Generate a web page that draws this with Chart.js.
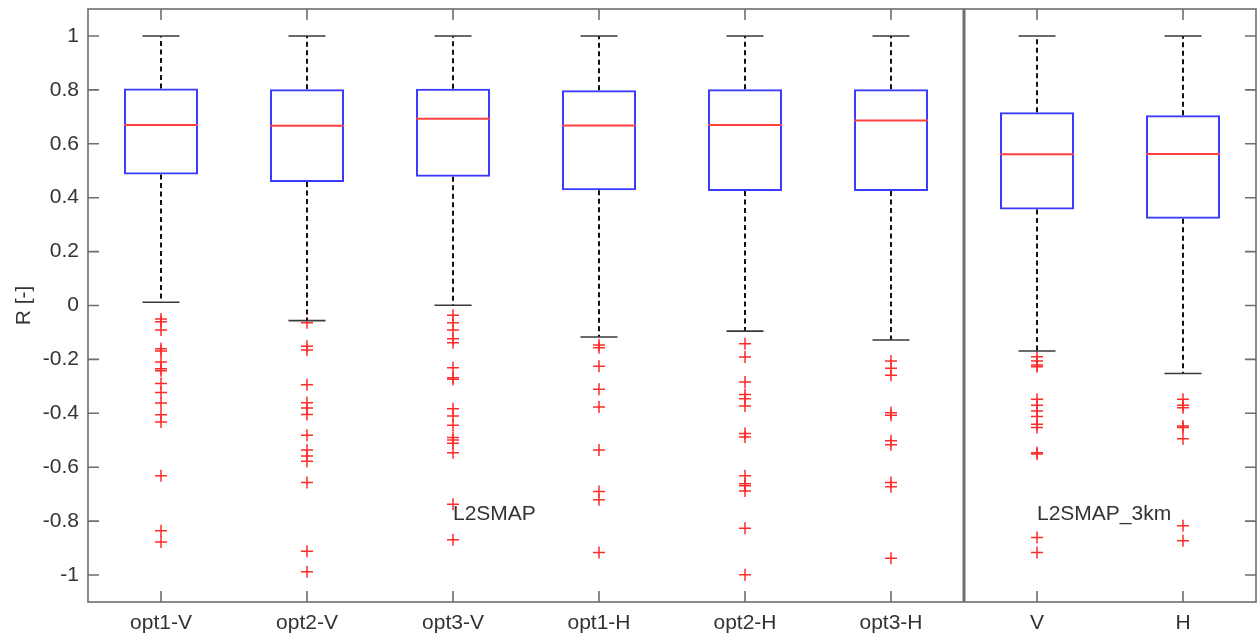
<!DOCTYPE html>
<html>
<head>
<meta charset="utf-8">
<script src="https://cdn.jsdelivr.net/npm/chart.js@4/dist/chart.umd.min.js"></script>
<style>
  html, body { margin: 0; padding: 0; background: #fff; }
  #wrap { width: 1258px; height: 643px; }
</style>
</head>
<body>
<div id="wrap"><canvas id="myChart"></canvas></div>
<script>
const labels = ["opt1-V", "opt2-V", "opt3-V", "opt1-H", "opt2-H", "opt3-H", "V", "H"];
const whiskerHigh = [1, 1, 1, 1, 1, 1, 1, 1];
const q3 = [0.805, 0.802, 0.804, 0.799, 0.802, 0.802, 0.717, 0.706];
const median = [0.670, 0.667, 0.693, 0.668, 0.670, 0.686, 0.561, 0.562];
const q1 = [0.486, 0.458, 0.478, 0.428, 0.425, 0.425, 0.356, 0.322];
const whiskerLow = [0.012, -0.056, 0.001, -0.117, -0.095, -0.128, -0.169, -0.252];
const yTicks = [-1, -0.8, -0.6, -0.4, -0.2, 0, 0.2, 0.4, 0.6, 0.8, 1];

const outOpt1V = [-0.05, -0.06, -0.091, -0.16, -0.169, -0.21, -0.235, -0.242, -0.289, -0.323, -0.362, -0.405, -0.432, -0.632, -0.836, -0.877];
const outOpt2V = [-0.064, -0.151, -0.165, -0.294, -0.361, -0.38, -0.404, -0.481, -0.536, -0.558, -0.578, -0.657, -0.912, -0.988];
const outOpt3V = [-0.036, -0.064, -0.091, -0.123, -0.138, -0.231, -0.268, -0.274, -0.383, -0.41, -0.444, -0.49, -0.499, -0.511, -0.546, -0.737, -0.869];
const outOpt1H = [-0.147, -0.157, -0.225, -0.311, -0.377, -0.536, -0.69, -0.721, -0.916];
const outOpt2H = [-0.142, -0.191, -0.284, -0.33, -0.346, -0.373, -0.475, -0.488, -0.632, -0.661, -0.669, -0.688, -0.826, -0.999];
const outOpt3H = [-0.206, -0.233, -0.259, -0.398, -0.407, -0.502, -0.517, -0.657, -0.672, -0.938];
const outV = [-0.19, -0.206, -0.221, -0.227, -0.348, -0.37, -0.391, -0.412, -0.441, -0.453, -0.546, -0.551, -0.861, -0.916];
const outH = [-0.348, -0.37, -0.379, -0.447, -0.453, -0.494, -0.817, -0.873];
const outliers = [outOpt1V, outOpt2V, outOpt3V, outOpt1H, outOpt2H, outOpt3H, outV, outH];

const groupNotes = ["L2SMAP", "L2SMAP_3km"];

const FONT = "'Liberation Sans', Arial, sans-serif";
const textColor = "#333333";
const axisColor = "#6e6e6e";

// red '+' points, one per outlier
let outlierPoints = [];
outliers.forEach((list, i) => {
  list.forEach(v => outlierPoints.push({ x: labels[i], y: v }));
});

// whiskers, medians, caps on top of the bar boxes
const boxParts = {
  id: "boxParts",
  afterDatasetsDraw(chart) {
    const ctx = chart.ctx;
    const x = chart.scales.x;
    const y = chart.scales.y;
    const meta = chart.getDatasetMeta(0);
    ctx.save();
    for (let i = 0; i < labels.length; i++) {
      const cx = x.getPixelForValue(i);
      const w = meta.data[i].width;
      // dashed whiskers
      ctx.strokeStyle = "#111";
      ctx.lineWidth = 2;
      ctx.setLineDash([5, 3.5]);
      ctx.beginPath();
      ctx.moveTo(cx, y.getPixelForValue(q3[i]));
      ctx.lineTo(cx, y.getPixelForValue(whiskerHigh[i]));
      ctx.moveTo(cx, y.getPixelForValue(q1[i]));
      ctx.lineTo(cx, y.getPixelForValue(whiskerLow[i]));
      ctx.stroke();
      ctx.setLineDash([]);
      // caps
      ctx.strokeStyle = "#3a3a3a";
      ctx.lineWidth = 1.6;
      ctx.beginPath();
      [whiskerHigh[i], whiskerLow[i]].forEach(v => {
        const py = y.getPixelForValue(v);
        ctx.moveTo(cx - w / 4, py);
        ctx.lineTo(cx + w / 4, py);
      });
      ctx.stroke();
      // median
      ctx.strokeStyle = "#ff4040";
      ctx.lineWidth = 2;
      const my = y.getPixelForValue(median[i]);
      ctx.beginPath();
      ctx.moveTo(cx - w / 2, my);
      ctx.lineTo(cx + w / 2, my);
      ctx.stroke();
    }
    ctx.restore();
  }
};

// matlab style box, inside ticks, divider and group notes
const frame = {
  id: "frame",
  afterDraw(chart) {
    const ctx = chart.ctx;
    const a = chart.chartArea;
    const x = chart.scales.x;
    const y = chart.scales.y;
    const tl = 11;
    ctx.save();
    ctx.strokeStyle = axisColor;
    ctx.lineWidth = 1.6;
    ctx.strokeRect(a.left, a.top, a.right - a.left, a.bottom - a.top);
    ctx.beginPath();
    yTicks.forEach(v => {
      const py = y.getPixelForValue(v);
      ctx.moveTo(a.left, py);
      ctx.lineTo(a.left + tl, py);
      ctx.moveTo(a.right, py);
      ctx.lineTo(a.right - tl, py);
    });
    labels.forEach((l, i) => {
      const px = x.getPixelForValue(i);
      ctx.moveTo(px, a.bottom);
      ctx.lineTo(px, a.bottom - tl);
      ctx.moveTo(px, a.top);
      ctx.lineTo(px, a.top + tl);
    });
    ctx.stroke();
    // divider between the two groups
    const dx = (x.getPixelForValue(5) + x.getPixelForValue(6)) / 2;
    ctx.strokeStyle = "#707070";
    ctx.lineWidth = 3;
    ctx.beginPath();
    ctx.moveTo(dx, a.top);
    ctx.lineTo(dx, a.bottom);
    ctx.stroke();
    // notes
    ctx.fillStyle = textColor;
    ctx.font = "21px " + FONT;
    ctx.textAlign = "left";
    ctx.textBaseline = "middle";
    ctx.fillText(groupNotes[0], x.getPixelForValue(2), y.getPixelForValue(-0.775));
    ctx.fillText(groupNotes[1], x.getPixelForValue(6), y.getPixelForValue(-0.775));
    ctx.restore();
  }
};

const ctx = document.getElementById("myChart").getContext("2d");
const myChart = new Chart(ctx, {
  type: "bar",
  data: {
    labels: labels,
    datasets: [{
      label: "box",
      data: labels.map((l, i) => [q1[i], q3[i]]),
      backgroundColor: "rgba(255,255,255,0)",
      borderColor: "#3b3bff",
      borderWidth: 2,
      borderSkipped: false,
      barPercentage: 0.507,
      categoryPercentage: 1,
      order: 2
    }, {
      type: "scatter",
      label: "outliers",
      data: outlierPoints,
      pointStyle: "cross",
      pointRadius: 6,
      pointBorderWidth: 1.5,
      borderColor: "#ff2a2a",
      backgroundColor: "#ff2a2a",
      order: 1
    }]
  },
  options: {
    responsive: true,
    maintainAspectRatio: false,
    animation: false,
    devicePixelRatio: 1,
    layout: { autoPadding: false, padding: { top: 9, right: 2, left: 0, bottom: 0 } },
    plugins: {
      legend: { display: false },
      tooltip: { enabled: false }
    },
    scales: {
      x: {
        type: "category",
        offset: true,
        grid: { display: false, drawTicks: false },
        border: { display: false },
        ticks: {
          color: textColor,
          font: { family: FONT, size: 21 },
          padding: 9,
          maxRotation: 0,
          autoSkip: false
        },
        afterFit: (scale) => {
          scale.height = 41;
          scale.paddingLeft = 0;
          scale.paddingRight = 0;
        }
      },
      y: {
        type: "linear",
        min: -1.1,
        max: 1.1,
        grid: { display: false, drawTicks: false },
        border: { display: false },
        afterBuildTicks: (axis) => { axis.ticks = yTicks.map(v => ({ value: v })); },
        ticks: {
          color: textColor,
          font: { family: FONT, size: 21 },
          padding: 9,
          callback: (v) => String(v)
        },
        title: {
          display: true,
          text: "R [-]",
          color: textColor,
          font: { family: FONT, size: 21 },
          padding: { top: 12, bottom: 0 }
        },
        afterFit: (scale) => {
          scale.width = 88;
          scale.paddingTop = 0;
          scale.paddingBottom = 0;
        }
      }
    }
  },
  plugins: [boxParts, frame]
});
</script>
</body>
</html>
